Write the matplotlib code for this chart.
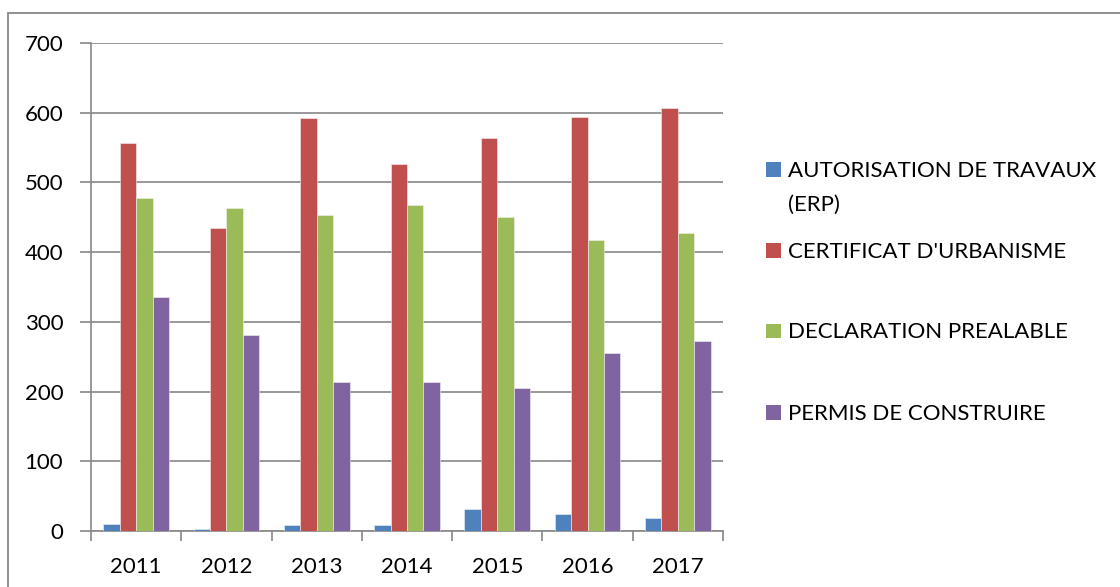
import matplotlib
matplotlib.use("Agg")
import matplotlib.pyplot as plt
import numpy as np
from matplotlib.patches import Rectangle

years = ["2011", "2012", "2013", "2014", "2015", "2016", "2017"]
series_names = ["AUTORISATION DE TRAVAUX\n(ERP)", "CERTIFICAT D'URBANISME",
                "DECLARATION PREALABLE", "PERMIS DE CONSTRUIRE"]
autorisation = [10, 3, 9, 8, 31, 24, 19]
certificat = [556, 435, 592, 527, 564, 594, 607]
declaration = [477, 463, 453, 467, 451, 418, 428]
permis = [336, 281, 214, 214, 205, 256, 273]
colors = ["#4F81BD", "#C0504D", "#9BBB59", "#8064A2"]

plt.rcParams['font.family'] = ['Lato', 'DejaVu Sans']

W, H = 1120, 587
fig = plt.figure(figsize=(W / 100, H / 100), dpi=100)
ax = fig.add_axes([91 / W, 1 - 531 / H, (723 - 91) / W, (531 - 43) / H])

data = [autorisation, certificat, declaration, permis]
x = np.arange(len(years))
bw = 0.182
for i, (vals, c) in enumerate(zip(data, colors)):
    ax.bar(x + (i - 1.5) * bw, vals, width=bw, color=c, edgecolor="#f2f2f2",
           linewidth=0.4, zorder=3)

ax.set_xlim(-0.5, len(years) - 0.5)
ax.set_ylim(0, 700)
ax.set_yticks(np.arange(0, 701, 100))
ax.set_xticks(x)
ax.set_xticklabels(years)
ax.set_xticks(np.arange(-0.5, len(years), 1), minor=True)
ax.tick_params(axis='x', which='major', length=0, pad=19, labelsize=16, colors='black')
ax.tick_params(axis='x', which='minor', length=7, width=1.2, color='#888888')
ax.tick_params(axis='y', length=8, width=1.2, color='#888888', pad=12, labelsize=16)
ax.grid(axis='y', color='#888888', linewidth=1.2, zorder=0)
for s in ['top', 'right']:
    ax.spines[s].set_visible(False)
for s in ['left', 'bottom']:
    ax.spines[s].set_color('#888888')
    ax.spines[s].set_linewidth(1.2)

# legend drawn manually (Excel style): baselines of first line in pixels
baselines = [177, 258, 338.5, 420]
line_step = 33.5
for name, c, yb in zip(series_names, colors, baselines):
    fig.patches.append(Rectangle((766 / W, 1 - (yb - 0.5) / H), 15 / W, 14.5 / H,
                                 transform=fig.transFigure, facecolor=c,
                                 edgecolor='none'))
    for k, line in enumerate(name.split("\n")):
        fig.text(788 / W, 1 - (yb + k * line_step) / H, line, fontsize=16,
                 va='baseline', ha='left')

# outer chart border
fig.patches.append(Rectangle((8 / W, -0.1), 1.2, 1.1 - 13 / H,
                             transform=fig.transFigure, facecolor='none',
                             edgecolor='#888888', linewidth=1.3))

fig.savefig("out.png", dpi=100)
